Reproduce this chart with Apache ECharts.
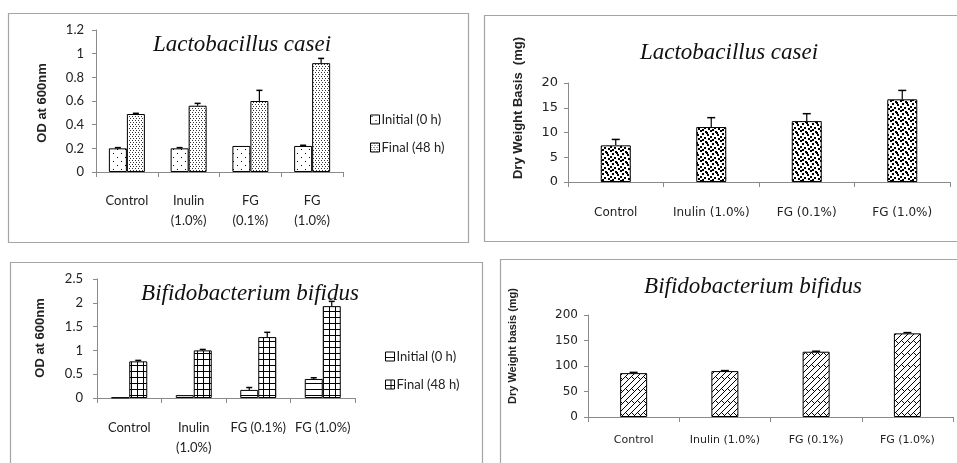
<!DOCTYPE html>
<html>
<head>
<meta charset="utf-8">
<script src="https://cdn.jsdelivr.net/npm/echarts@6/dist/echarts.min.js"></script>
<style>
  html, body { margin: 0; padding: 0; background: #fff; }
  #chart { width: 957px; height: 463px; }
</style>
</head>
<body>
<div id="chart"></div>
<script>
// ---- data ----
const odCategories = ['Control', 'Inulin\n(1.0%)', 'FG\n(0.1%)', 'FG\n(1.0%)'];
const odCategoriesB = ['Control', 'Inulin\n(1.0%)', 'FG (0.1%)', 'FG (1.0%)'];
const dwCategories = ['Control', 'Inulin (1.0%)', 'FG (0.1%)', 'FG (1.0%)'];
const seriesNames = ['Initial (0 h)', 'Final (48 h)'];

// Lactobacillus casei, OD at 600 nm
const lcInitial = [0.20, 0.20, 0.22, 0.22];
const lcInitialErr = [0.006, 0.006, 0, 0.006];
const lcFinal = [0.49, 0.56, 0.60, 0.92];
const lcFinalErr = [0.006, 0.02, 0.09, 0.04];

// Lactobacillus casei, dry weight (mg)
const lcDry = [7.4, 11.1, 12.3, 16.7];
const lcDryErr = [1.2, 1.9, 1.5, 1.8];

// Bifidobacterium bifidus, OD at 600 nm
const bbInitial = [0.01, 0.06, 0.17, 0.40];
const bbInitialErr = [0, 0, 0.05, 0.025];
const bbFinal = [0.77, 1.00, 1.28, 1.93];
const bbFinalErr = [0.02, 0.02, 0.10, 0.10];

// Bifidobacterium bifidus, dry weight (mg)
const bbDry = [86, 90, 128, 164];
const bbDryErr = [1.5, 1, 1, 1.5];

// ---- fill patterns ----
function tile(w, h, draw) {
  const c = document.createElement('canvas');
  c.width = w; c.height = h;
  const g = c.getContext('2d');
  g.fillStyle = '#fff'; g.fillRect(0, 0, w, h);
  g.fillStyle = '#000'; g.strokeStyle = '#000';
  draw(g);
  return { image: c, repeat: 'repeat' };
}
const patSparseDots = tile(8, 8, g => { g.fillRect(1, 1, 1, 1); g.fillRect(5, 5, 1, 1); });
const patDenseDots = tile(6, 4, g => {
  g.fillStyle = '#333';
  g.fillRect(0, 0, 1, 1); g.fillRect(3, 0, 1, 1); g.fillRect(1, 2, 1, 1); g.fillRect(4, 2, 1, 1);
});
const patBlobs = tile(10, 10, g => {
  [[0, 0], [5, 1], [2, 3], [7, 4], [0, 6], [4, 7], [8, 8], [2, 9], [6, 2]].forEach(p => {
    for (let dx = 0; dx < 2; dx++) for (let dy = 0; dy < 2; dy++) {
      g.fillRect((p[0] + dx) % 10, (p[1] + dy) % 10, 1, 1);
    }
  });
});
const patHLines = tile(4, 6, g => { g.fillRect(0, 5, 4, 1); });
const patGrid = tile(6, 6, g => { g.fillRect(0, 5, 6, 1); g.fillRect(5, 0, 1, 6); });
const patBrick = tile(12, 12, g => {
  g.lineWidth = 1;
  g.beginPath();
  g.moveTo(0, 6); g.lineTo(6, 0);
  g.moveTo(0, 12); g.lineTo(12, 0);
  g.moveTo(6, 12); g.lineTo(12, 6);
  g.moveTo(1.5, 4.5); g.lineTo(4.5, 7.5);
  g.moveTo(7.5, 4.5); g.lineTo(10.5, 7.5);
  g.stroke();
});

// ---- helpers ----
const axisGray = '#8a8a8a';
const serifItalic = { fontFamily: 'Liberation Serif', fontStyle: 'italic', fontWeight: 'normal', fontSize: 23, color: '#111' };

function catAxis(gridIndex, data, font, size, margin, lineHeight) {
  return {
    type: 'category', gridIndex, data,
    axisLine: { lineStyle: { color: axisGray } },
    axisTick: { show: true, alignWithLabel: false, length: 5, lineStyle: { color: axisGray } },
    axisLabel: { fontFamily: font, fontSize: size, color: '#222', margin, lineHeight, interval: 0 }
  };
}
function valAxis(gridIndex, max, interval, font, size, margin) {
  return {
    type: 'value', gridIndex, min: 0, max, interval,
    splitLine: { show: false },
    axisLine: { show: true, lineStyle: { color: axisGray } },
    axisTick: { show: true, length: 4, lineStyle: { color: axisGray } },
    axisLabel: { fontFamily: font, fontSize: size, color: '#222', margin }
  };
}
function bars(name, idx, values, fill, width) {
  return {
    type: 'bar', name, xAxisIndex: idx, yAxisIndex: idx, data: values,
    barWidth: width, barGap: '0%',
    itemStyle: { color: fill, borderColor: '#000', borderWidth: 1 },
    silent: true
  };
}
// upper error whiskers, drawn through the axis scale
function errors(idx, values, errs, offset, cap) {
  return {
    type: 'custom', xAxisIndex: idx, yAxisIndex: idx, silent: true, z: 5,
    data: values.map((v, i) => [i, v, v + errs[i]]),
    renderItem: (params, api) => {
      if (api.value(2) === api.value(1)) return null;
      const lo = api.coord([api.value(0), api.value(1)]);
      const hi = api.coord([api.value(0), api.value(2)]);
      const x = lo[0] + offset;
      return {
        type: 'group',
        children: [
          { type: 'line', shape: { x1: x, y1: lo[1], x2: x, y2: hi[1] }, style: { stroke: '#000', lineWidth: 1.2 } },
          { type: 'line', shape: { x1: x - cap / 2, y1: hi[1], x2: x + cap / 2, y2: hi[1] }, style: { stroke: '#000', lineWidth: 1.5 } }
        ]
      };
    }
  };
}
function yName(x, y, text, size) {
  return {
    type: 'text', x, y, rotation: Math.PI / 2,
    style: { text, fontFamily: 'Liberation Sans', fontWeight: 'bold', fontSize: size, fill: '#222', align: 'center', verticalAlign: 'middle' }
  };
}
function frame(x, y, w, h) {
  return { type: 'rect', shape: { x, y, width: w, height: h }, style: { fill: 'none', stroke: '#a5a5a5', lineWidth: 1.2 }, silent: true, z: -1 };
}
function legendBox(left, top, fills) {
  return {
    orient: 'vertical', left, top, itemWidth: 9, itemHeight: 9, itemGap: 15, icon: 'rect',
    textStyle: { fontFamily: 'Lato', fontSize: 13, color: '#222', padding: [0, 0, 0, -3] },
    data: seriesNames.map((n, i) => ({ name: n, itemStyle: { color: fills[i], borderColor: '#000', borderWidth: 1 } }))
  };
}

const chart = echarts.init(document.getElementById('chart'));
chart.setOption({
  animation: false,
  backgroundColor: '#fff',
  title: [
    { text: 'Lactobacillus casei', left: 237, top: 28, textAlign: 'center', textStyle: serifItalic },
    { text: 'Lactobacillus casei', left: 724, top: 36, textAlign: 'center', textStyle: serifItalic },
    { text: 'Bifidobacterium bifidus', left: 245, top: 277, textAlign: 'center', textStyle: serifItalic },
    { text: 'Bifidobacterium bifidus', left: 748, top: 270, textAlign: 'center', textStyle: serifItalic }
  ],
  legend: [
    legendBox(365, 108, [patSparseDots, patDenseDots]),
    legendBox(380, 345, [patHLines, patGrid])
  ],
  grid: [
    { left: 96, top: 30, width: 247, height: 142 },
    { left: 568, top: 83, width: 382, height: 99 },
    { left: 97, top: 279, width: 258, height: 119 },
    { left: 588, top: 315, width: 365, height: 102 }
  ],
  xAxis: [
    catAxis(0, odCategories, 'Lato', 13, 19, 20),
    catAxis(1, dwCategories, 'DejaVu Sans', 12, 24, 14),
    catAxis(2, odCategoriesB, 'Lato', 13, 20, 20),
    catAxis(3, dwCategories, 'DejaVu Sans', 11, 16, 14)
  ],
  yAxis: [
    valAxis(0, 1.2, 0.2, 'Lato', 13, 12),
    valAxis(1, 20, 5, 'DejaVu Sans', 13, 10),
    valAxis(2, 2.5, 0.5, 'Lato', 13, 14),
    valAxis(3, 200, 50, 'DejaVu Sans', 12, 10)
  ],
  series: [
    bars(seriesNames[0], 0, lcInitial, patSparseDots, 18),
    bars(seriesNames[1], 0, lcFinal, patDenseDots, 18),
    errors(0, lcInitial, lcInitialErr, -9, 6),
    errors(0, lcFinal, lcFinalErr, 9, 6),

    bars('Dry weight', 1, lcDry, patBlobs, 30),
    errors(1, lcDry, lcDryErr, 0, 8),

    bars(seriesNames[0], 2, bbInitial, patHLines, 18),
    bars(seriesNames[1], 2, bbFinal, patGrid, 18),
    errors(2, bbInitial, bbInitialErr, -9, 6),
    errors(2, bbFinal, bbFinalErr, 9, 6),

    bars('Dry weight basis', 3, bbDry, patBrick, 27),
    errors(3, bbDry, bbDryErr, 0, 8)
  ],
  graphic: [
    frame(8.5, 13.5, 460, 229),
    frame(484.5, 15.5, 480, 226),
    frame(10.5, 262.5, 472, 210),
    frame(500.5, 259.5, 470, 210),
    yName(42, 103, 'OD at 600nm', 13),
    yName(518, 108, 'Dry Weight Basis  (mg)', 13),
    yName(40, 338, 'OD at 600nm', 13),
    yName(513, 346, 'Dry Weight basis (mg)', 11)
  ]
});
</script>
</body>
</html>
